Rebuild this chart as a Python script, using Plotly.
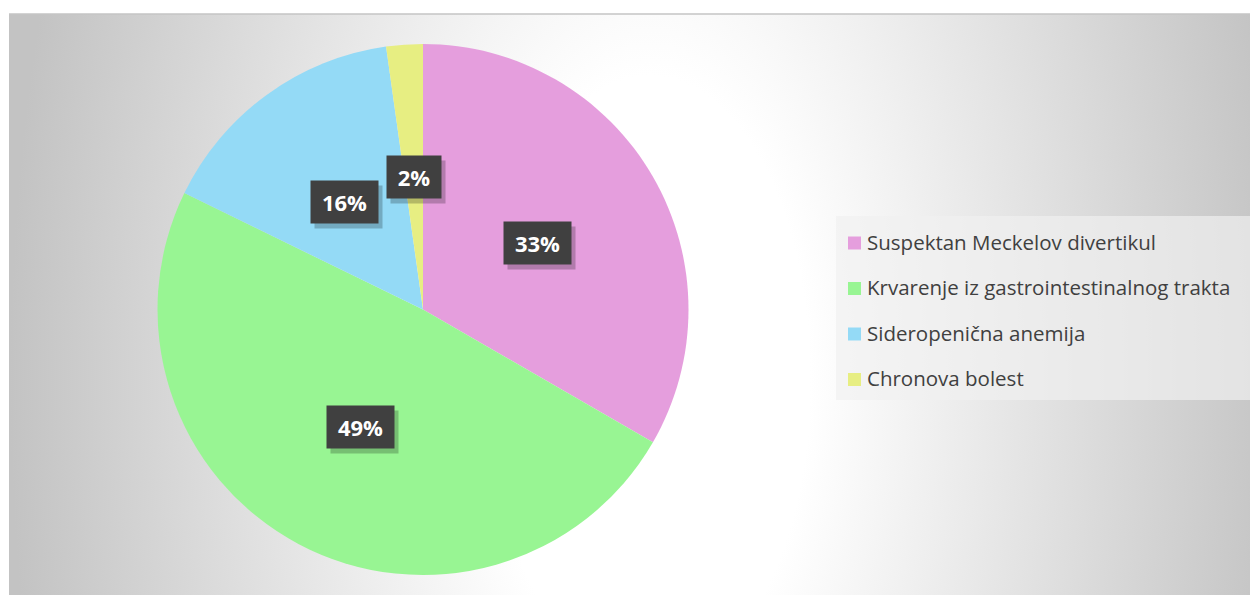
import math, base64
import plotly.graph_objects as go

# ---- data ----
categories = ["Suspektan Meckelov divertikul",
              "Krvarenje iz gastrointestinalnog trakta",
              "Sideropenična anemija",
              "Chronova bolest"]
counts = [15, 22, 7, 1]
colors = ["#E59EDD", "#98F593", "#94DAF6", "#E7EE82"]

W, H = 1253, 595

# pie geometry (pixels)
pcx, pcy, pr = 423, 309.5, 265.5
dom_x = [(pcx - pr) / W, (pcx + pr) / W]
dom_y = [(H - pcy - pr) / H, (H - pcy + pr) / H]

fig = go.Figure()
fig.add_trace(go.Pie(
    labels=categories, values=counts, sort=False, direction="clockwise",
    rotation=0, marker=dict(colors=colors, line=dict(width=0)),
    textinfo="none", hoverinfo="label+percent", showlegend=False,
    domain=dict(x=dom_x, y=dom_y),
))

# background gradient as svg image
bx0, by0, bx1, by1 = 9, 14, 1250, 595
bw, bh = bx1 - bx0, by1 - by0
gcx, gcy = 650 - bx0, 380 - by0
svg = f'''<svg xmlns="http://www.w3.org/2000/svg" width="{bw}" height="{bh}" viewBox="0 0 {bw} {bh}" preserveAspectRatio="none">
<defs><radialGradient id="g" gradientUnits="userSpaceOnUse" cx="{gcx}" cy="{gcy}" r="640"
 gradientTransform="translate({gcx},{gcy}) scale(1,1.9) translate({-gcx},{-gcy})">
<stop offset="0" stop-color="#ffffff"/><stop offset="0.25" stop-color="#ffffff"/>
<stop offset="1" stop-color="#c3c3c3"/></radialGradient></defs>
<rect x="0" y="0" width="{bw}" height="{bh}" fill="url(#g)"/></svg>'''
src = "data:image/svg+xml;base64," + base64.b64encode(svg.encode()).decode()

images = [dict(source=src, xref="paper", yref="paper", x=bx0 / W, y=1 - by0 / H,
               sizex=bw / W, sizey=bh / H, xanchor="left", yanchor="top",
               sizing="stretch", layer="below")]

shapes = [
    dict(type="line", xref="paper", yref="paper", x0=bx0 / W, x1=bx1 / W,
         y0=1 - by0 / H, y1=1 - by0 / H, line=dict(color="#c4c4c4", width=1.5)),
    # legend box
    dict(type="rect", xref="paper", yref="paper", x0=836 / W, x1=1250 / W,
         y0=1 - 400 / H, y1=1 - 216 / H, fillcolor="rgba(240,240,240,0.68)",
         line=dict(width=0), layer="below"),
]

annotations = []
# percentage labels, computed from values
total = sum(counts)
cum = 0
for v in counts:
    mid = (cum + v / 2) / total * 2 * math.pi
    cum += v
    px = pcx + 0.5 * pr * math.sin(mid)
    py = pcy - 0.5 * pr * math.cos(mid)
    txt = f"{round(100 * v / total)}%"
    common = dict(xref="paper", yref="paper", x=px / W, y=1 - py / H,
                  showarrow=False, height=40, width=26 + 13 * len(txt),
                  xanchor="center", yanchor="middle")
    annotations.append(dict(text="", bgcolor="rgba(0,0,0,0.22)", xshift=4, yshift=-5, **common))
    annotations.append(dict(text=f"<b>{txt}</b>", bgcolor="#404040",
                            font=dict(family="Open Sans", size=22, color="white"), **common))

# legend entries
for i, (c, lab) in enumerate(zip(colors, categories)):
    yc = 243 + i * 45.5
    shapes.append(dict(type="rect", xref="paper", yref="paper",
                       x0=848 / W, x1=861 / W, y0=1 - (yc + 6.5) / H, y1=1 - (yc - 6.5) / H,
                       fillcolor=c, line=dict(width=0)))
    annotations.append(dict(text=lab, xref="paper", yref="paper", x=865 / W, y=1 - (yc - 1.5) / H,
                            xanchor="left", yanchor="middle", showarrow=False,
                            font=dict(family="Open Sans", size=20.5, color="#404040")))

fig.update_layout(
    width=W, height=H, margin=dict(l=0, r=0, t=0, b=0),
    paper_bgcolor="white", plot_bgcolor="rgba(0,0,0,0)",
    images=images, shapes=shapes, annotations=annotations,
)
fig.write_html("out.html")
